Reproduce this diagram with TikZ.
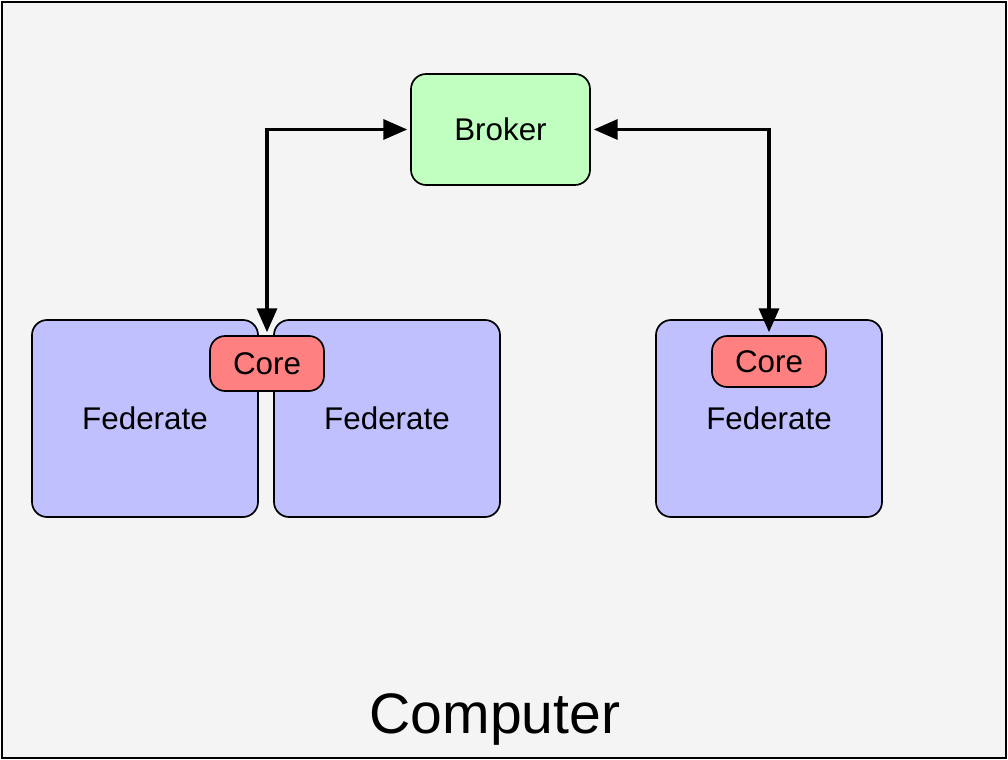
\documentclass[tikz,border=0pt]{standalone}
\usepackage{fontspec}
\setmainfont{Liberation Sans}
\usetikzlibrary{arrows.meta}
\definecolor{bgcol}{HTML}{F4F4F4}
\definecolor{brokercol}{HTML}{C0FFC0}
\definecolor{fedcol}{HTML}{C0C0FF}
\definecolor{corecol}{HTML}{FF8080}
\tikzset{
  box/.style={draw,line width=1.2pt,rounded corners=0.38cm,inner sep=0pt,
    font=\fontsize{22.3}{26}\selectfont},
  brokerbox/.style={box,fill=brokercol,minimum width=4.475cm,minimum height=2.775cm},
  fedbox/.style={box,fill=fedcol,minimum width=5.65cm,minimum height=4.925cm},
  corebox/.style={box,fill=corecol,minimum width=2.85cm,minimum height=1.35cm},
  link/.style={line width=2.8pt,{Triangle[length=17pt,width=14pt]}-{Triangle[length=17pt,width=14pt]},
    shorten <=2pt,shorten >=2pt}
}

\begin{document}
\begin{tikzpicture}[x=0.025cm,y=-0.025cm]
    \useasboundingbox (0,0) rectangle (1008,760);

    % Computer
    \draw[fill=bgcol,line width=1.2pt] (2,2) rectangle (1006,758);
    \node[font=\fontsize{40.6}{48}\selectfont] (computer) at (495,719) {Computer};

    % Broker
    \node[brokerbox] (broker) at (500.5,129.5) {Broker};

    % Federates
    \node[fedbox] (fedA) at (145,418.5) {Federate};
    \node[fedbox] (fedB) at (387,418.5) {Federate};
    \node[fedbox] (fedC) at (769,418.5) {Federate};

    % Cores
    \node[corebox,minimum height=1.375cm] (coreA) at (267,363.5) {Core};
    \node[corebox,minimum height=1.275cm] (coreB) at (769,361.5) {Core};

    % Links
    \draw[link] (broker.west) -| (coreA.north);
    \draw[link] (broker.east) -| (coreB.north);
  \end{tikzpicture}
\end{document}
